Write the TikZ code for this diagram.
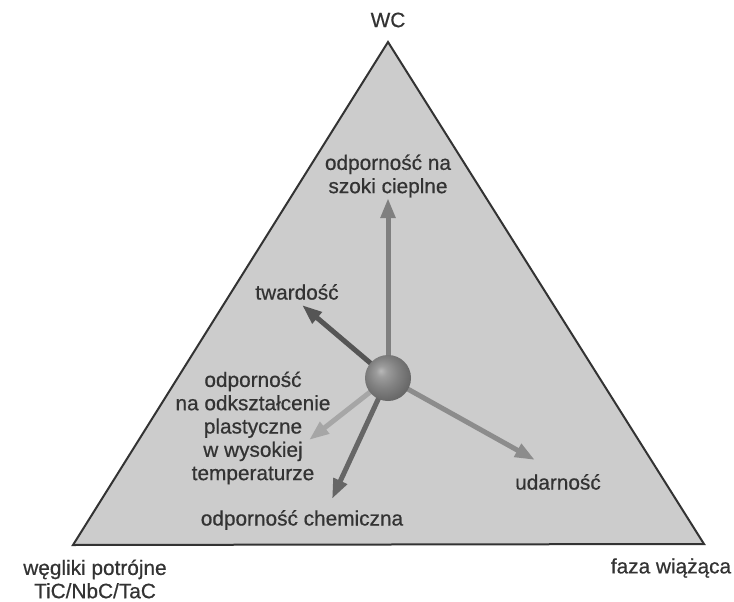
\documentclass[tikz,border=0pt]{standalone}
\usepackage{fontspec}
\setmainfont{Liberation Sans}[FakeBold=0.6]
\usetikzlibrary{arrows.meta}
\definecolor{txt}{HTML}{333333}
\definecolor{trifill}{HTML}{CCCCCC}
\definecolor{edge}{HTML}{333333}
\definecolor{aup}{HTML}{7F7F7F}
\definecolor{ahard}{HTML}{555555}
\definecolor{aplast}{HTML}{A6A6A6}
\definecolor{achem}{HTML}{666666}
\definecolor{aimp}{HTML}{8C8C8C}
\definecolor{sa}{HTML}{B8B8B8}
\definecolor{sb}{HTML}{9C9C9C}
\definecolor{sc}{HTML}{828282}
\definecolor{sd}{HTML}{6C6C6C}
\definecolor{se}{HTML}{585858}
\pgfdeclareradialshading{sphereshade}{\pgfpoint{-8bp}{8bp}}{color(0bp)=(sa); color(6bp)=(sb); color(16bp)=(sc); color(26bp)=(sd); color(36bp)=(se); color(50bp)=(se)}
\begin{document}
\begin{tikzpicture}[x=1pt,y=-1pt,
  lbl/.style={text=txt,font=\fontsize{20.8}{23.3}\selectfont,align=center,inner sep=0pt},
  arr/.style={line width=5pt,-{Triangle[length=20pt,width=14pt]}}]
\useasboundingbox (0,0) rectangle (734,602);
\coordinate (A) at (388,42);
\coordinate (B) at (73,545);
\coordinate (C) at (704,544);
\draw[fill=trifill,draw=edge,line width=2pt,line join=miter] (A) -- (B) -- (C) -- cycle;
\coordinate (c) at (388,378);
\coordinate (tUp) at (388,198);
\coordinate (tHard) at (302,305);
\coordinate (tPlast) at (309,440);
\coordinate (tChem) at (332,499);
\coordinate (tImp) at (535,460);
\draw[arr,color=aup] (c) -- (tUp);
\draw[arr,color=ahard] (c) -- (tHard);
\draw[arr,color=aplast] (c) -- (tPlast);
\draw[arr,color=achem] (c) -- (tChem);
\draw[arr,color=aimp] (c) -- (tImp);
\node[circle,minimum size=46pt,inner sep=0pt,shading=sphereshade] (ball) at (c) {};
\node[lbl] (wc) at (388,20) {WC};
\node[lbl] (szoki) at (388,176) {odporność na\\szoki cieplne};
\node[lbl] (hard) at (297,292) {twardość};
\node[lbl] (plast) at (253,428) {odporność\\na odkształcenie\\plastyczne\\w wysokiej\\temperaturze};
\node[lbl] (chem) at (302,520) {odporność chemiczna};
\node[lbl] (imp) at (558,482) {udarność};
\node[lbl] (carb) at (95,579) {węgliki potrójne\\TiC/NbC/TaC};
\node[lbl] (bind) at (671,568) {faza wiążąca};
\end{tikzpicture}
\end{document}
